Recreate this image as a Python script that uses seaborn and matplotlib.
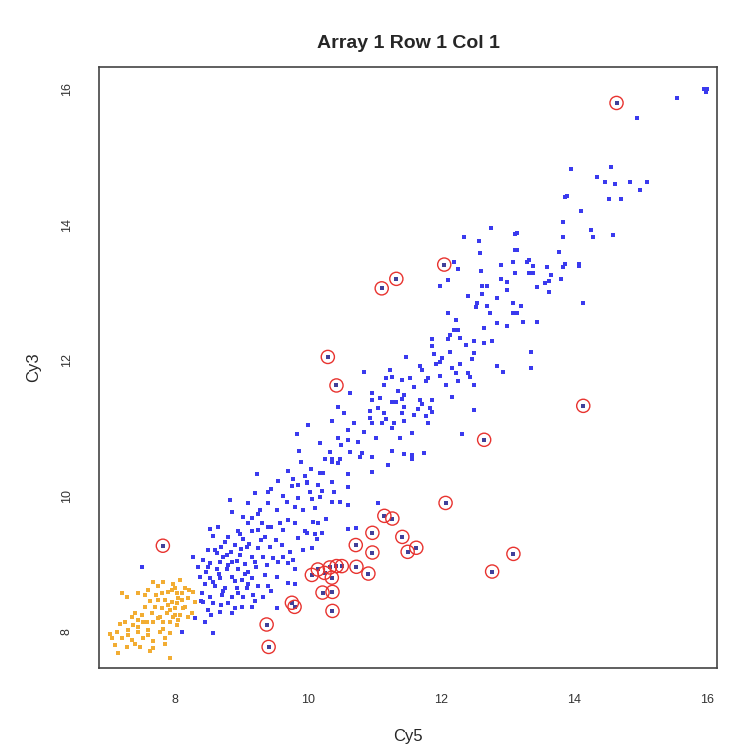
import matplotlib
matplotlib.use("Agg")
import matplotlib.pyplot as plt
import seaborn as sns
import pandas as pd

# Spots (Cy5 on x, Cy3 on y)
blue_x = [15.55, 14.95, 15.96, 16.00, 15.98, 15.99, 13.96, 14.55, 14.34, 14.46, 14.61, 14.85, 15.10, 15.00,
          13.86, 13.90, 14.53, 14.71, 14.11, 13.83, 14.25, 14.28, 14.58, 13.84, 13.14, 13.14, 13.78, 13.32,
          13.86, 14.08,
          13.30, 13.38, 13.59, 13.84, 14.08, 13.33, 13.39, 13.65, 13.81, 13.57, 13.63, 13.45, 13.63, 14.13,
          13.20, 13.15, 13.24, 13.45, 13.36, 13.35,
          12.76, 12.35, 12.58, 13.11, 12.59, 13.12, 13.09, 12.19,
          12.25, 12.61, 13.11, 12.10, 11.98, 12.62, 12.91, 13.00, 13.00, 12.62, 12.85, 12.55, 12.52, 12.70,
          13.08, 13.09, 12.74, 12.10, 12.22, 12.85, 13.00, 12.25, 12.65, 12.13, 11.87, 12.11, 12.29, 12.50,
          12.65, 12.77, 11.87, 12.38, 12.13, 12.50, 11.48, 12.02, 11.99, 12.46, 11.68, 11.93, 12.28, 12.85,
          12.94, 10.85, 11.23, 11.71, 12.16, 12.23, 12.40, 11.18, 11.27, 11.42, 11.53, 11.81, 11.78, 11.99,
          12.25, 12.43, 11.14, 12.08, 12.49, 10.63, 10.96, 11.44, 12.16, 10.45, 10.96, 11.08, 11.26, 11.33,
          11.41, 11.45, 11.68, 11.71, 11.87, 11.65, 11.84, 12.50, 10.55, 10.93, 11.15, 11.42, 11.60, 11.78,
          11.87, 10.93, 11.18, 11.80, 10.37, 10.70, 10.97, 11.12, 11.30, 11.45, 10.00, 10.60, 11.27, 11.57,
          12.31, 10.18, 10.45, 10.60, 10.75, 11.03, 11.38, 10.33, 10.63, 10.81, 10.97, 11.26, 11.45, 11.57,
          11.75, 10.36, 10.48, 10.78, 11.56,
          10.36, 10.45, 11.20, 10.97, 10.18, 10.22, 10.60, 9.98, 10.36, 10.15, 10.60, 10.03, 10.21, 10.40,
          10.06, 10.18, 10.37, 10.48, 10.60, 11.06, 10.10, 10.07, 10.15, 10.28, 10.60, 10.73, 9.98, 10.10,
          10.21, 10.13, 10.06,
          9.83, 9.86, 9.89,
          9.23, 9.70, 9.89, 9.95, 9.55, 9.76, 9.85, 9.98, 9.40, 9.20, 8.83, 9.68, 9.85, 9.10, 9.40, 9.53,
          9.80, 9.92, 8.86, 9.02, 9.16, 9.25, 9.31, 9.40, 9.58, 9.70, 9.80, 9.95, 8.53, 8.95, 9.16, 9.25,
          8.57, 8.80, 9.02, 9.35, 9.61, 9.85, 8.69, 8.90, 9.08, 9.25, 9.43, 9.73, 9.92, 8.63, 8.78, 8.98,
          9.16, 9.32, 9.47, 9.62, 9.77, 8.27, 8.42, 8.53, 8.68, 8.86, 9.05, 9.20, 9.38, 9.55, 9.70, 7.50,
          8.35, 8.50, 8.63, 8.78, 8.95, 9.10, 9.35, 9.80, 8.38, 8.53, 8.68, 8.86, 9.01, 9.16, 9.53, 9.70,
          8.45, 8.60, 8.75, 8.93, 9.08, 9.25, 9.40, 9.80, 8.41, 8.53, 8.71, 8.86, 9.02, 9.17, 9.32, 8.42,
          8.57, 8.80, 9.01, 9.16, 9.53, 8.50, 8.68, 8.86, 8.30, 8.45, 8.57, 8.11,
          8.60, 8.72, 8.84, 8.93, 9.00, 9.12, 8.66, 8.80, 8.90, 9.05, 8.47, 8.58, 8.72, 8.95, 9.10, 9.22,
          9.30, 9.45, 9.52, 9.62, 9.10, 8.98, 8.75, 8.50, 8.65, 9.28, 9.45, 9.62, 9.78, 8.40, 8.55, 8.70,
          8.90, 9.20, 9.45, 10.05, 10.25, 10.50, 10.85, 11.05, 11.35, 11.60, 11.90, 12.20, 12.40, 12.70,
          12.90]
blue_y = [15.87, 15.57, 15.99, 16.00, 15.95, 15.97, 14.82, 14.84, 14.70, 14.62, 14.60, 14.62, 14.63, 14.51,
          14.41, 14.42, 14.37, 14.38, 14.20, 14.04, 13.92, 13.81, 13.84, 13.81, 13.88, 13.63, 13.60, 13.48,
          13.42, 13.42,
          13.45, 13.39, 13.38, 13.38, 13.39, 13.29, 13.29, 13.25, 13.20, 13.14, 13.17, 13.08, 13.00, 12.85,
          12.80, 12.70, 12.57, 12.57, 12.13, 11.88,
          13.95, 13.82, 13.76, 13.86, 13.58, 13.63, 13.45, 13.45,
          13.35, 13.32, 13.29, 13.19, 13.10, 13.10, 13.20, 13.16, 13.04, 12.98, 12.92, 12.85, 12.79, 12.80,
          12.85, 12.70, 12.70, 12.70, 12.60, 12.55, 12.51, 12.45, 12.47, 12.38, 12.32, 12.32, 12.33, 12.29,
          12.26, 12.29, 12.21, 12.23, 12.13, 12.11, 12.05, 12.04, 11.98, 12.02, 11.92, 11.94, 11.94, 11.92,
          11.83, 11.83, 11.86, 11.86, 11.88, 11.82, 11.82, 11.74, 11.76, 11.71, 11.74, 11.74, 11.70, 11.77,
          11.70, 11.76, 11.64, 11.63, 11.63, 11.52, 11.52, 11.49, 11.46, 11.32, 11.42, 11.45, 11.38, 11.39,
          11.43, 11.32, 11.42, 11.35, 11.42, 11.29, 11.30, 11.27, 11.23, 11.26, 11.23, 11.23, 11.20, 11.18,
          11.24, 11.15, 11.14, 11.08, 11.10, 11.08, 11.08, 11.07, 11.07, 11.10, 11.05, 10.98, 11.01, 10.93,
          10.92, 10.79, 10.86, 10.83, 10.80, 10.86, 10.86, 10.65, 10.65, 10.64, 10.58, 10.67, 10.62, 10.61,
          10.64, 10.54, 10.55, 10.57, 10.55,
          10.51, 10.49, 10.46, 10.36, 10.34, 10.34, 10.32, 10.21, 10.21, 10.17, 10.14, 10.06, 10.08, 10.06,
          9.96, 9.99, 9.92, 9.92, 9.87, 9.90, 9.83, 9.62, 9.61, 9.67, 9.52, 9.53, 9.46, 9.45,
          9.46, 9.37, 9.24,
          10.92, 10.67, 10.51,
          10.33, 10.37, 10.51, 10.30, 10.23, 10.15, 10.17, 10.20, 10.06, 10.05, 9.95, 9.92, 9.98, 9.90, 9.90, 9.80,
          9.84, 9.80, 9.76, 9.70, 9.68, 9.73, 9.61, 9.55, 9.61, 9.65, 9.61, 9.48, 9.52, 9.48, 9.48, 9.50,
          9.42, 9.40, 9.37, 9.40, 9.28, 9.39, 9.25, 9.28, 9.25, 9.24, 9.25, 9.18, 9.21, 9.17, 9.14, 9.14,
          9.11, 9.11, 9.09, 9.11, 9.06, 9.11, 9.06, 9.02, 9.03, 9.03, 9.00, 9.03, 8.99, 9.03, 9.02, 8.95,
          8.95, 8.95, 8.92, 8.92, 8.92, 8.89, 8.84, 8.92, 8.81, 8.80, 8.80, 8.81, 8.77, 8.80, 8.81, 8.72,
          8.70, 8.67, 8.65, 8.65, 8.65, 8.67, 8.67, 8.70, 8.58, 8.52, 8.55, 8.52, 8.52, 8.55, 8.52, 8.44,
          8.43, 8.43, 8.37, 8.37, 8.36, 8.33, 8.30, 8.28, 8.21, 8.14, 7.99, 8.00,
          9.20, 9.10, 9.18, 9.05, 9.22, 9.30, 8.86, 8.98, 8.75, 8.86, 8.88, 8.73, 8.60, 8.58, 8.70, 8.95,
          9.35, 9.55, 9.35, 9.50, 9.60, 9.45, 9.33, 9.20, 9.55, 9.80, 10.10, 10.00, 10.25, 8.45, 8.25, 8.40,
          8.35, 8.45, 8.60, 10.40, 10.55, 10.75, 10.95, 11.30, 11.55, 11.60, 12.10, 12.45, 12.95, 13.10,
          13.40]

orange_x = [7.20, 7.28, 7.44, 7.59, 7.67, 7.82, 7.97, 8.08, 8.15, 8.27, 7.80, 7.89, 8.03, 7.85, 7.95, 8.11,
            8.20, 8.30, 7.55, 7.70, 7.80, 8.00, 8.15, 7.40, 7.50, 7.65, 7.88, 7.97, 8.08, 8.26, 7.25, 7.37,
            7.52, 7.67, 7.82, 7.92, 8.03, 7.13, 7.29, 7.44, 7.59, 7.77, 7.92, 7.05, 7.20, 7.35, 7.52, 7.67,
            7.85, 7.10, 7.28, 7.47, 7.67, 7.14, 7.92, 7.74, 8.00, 8.11, 7.74, 8.03, 7.77, 7.92, 8.05, 8.20,
            7.35, 7.44, 7.62, 7.72, 7.90, 8.05, 7.58, 7.45, 7.82, 8.12, 7.30, 7.40, 7.60, 7.75, 7.95, 8.22,
            7.18, 7.55, 7.85, 7.02, 7.62, 8.00]
orange_y = [8.58, 8.52, 8.58, 8.62, 8.74, 8.74, 8.70, 8.77, 8.65, 8.59, 8.58, 8.59, 8.58, 8.47, 8.44, 8.47,
            8.50, 8.44, 8.37, 8.37, 8.36, 8.36, 8.37, 8.28, 8.25, 8.28, 8.28, 8.22, 8.25, 8.28, 8.14, 8.11,
            8.14, 8.15, 8.14, 8.14, 8.11, 8.00, 8.03, 8.00, 8.03, 8.00, 7.99, 7.91, 7.91, 7.88, 7.91, 7.86,
            7.91, 7.81, 7.78, 7.78, 7.77, 7.69, 7.61, 8.67, 8.65, 8.58, 8.47, 8.43, 8.22, 8.33, 8.18, 8.22,
            8.22, 8.18, 8.45, 8.55, 8.40, 8.50, 8.15, 8.08, 8.05, 8.35, 7.95, 7.82, 7.95, 8.20, 8.62, 8.62,
            8.12, 8.55, 7.83, 7.97, 7.72, 8.25]

# Flagged spots (circled in red)
flag_x = [14.64, 12.05, 11.33, 11.11, 10.30, 10.43, 12.65, 14.14, 7.82, 9.38, 9.41, 9.76, 9.80, 12.07,
          11.15, 11.27, 10.97, 11.42, 10.72, 10.97, 11.50, 11.63, 10.73, 10.91, 12.77, 13.09, 10.15, 10.25,
          10.33, 10.43, 10.51, 10.36, 10.22, 10.37, 10.37, 10.06]
flag_y = [15.79, 13.41, 13.20, 13.06, 12.05, 11.63, 10.83, 11.33, 9.27, 8.11, 7.78, 8.43, 8.37, 9.90,
          9.71, 9.67, 9.46, 9.40, 9.28, 9.17, 9.18, 9.24, 8.96, 8.86, 8.89, 9.15, 8.92, 8.87,
          8.95, 8.97, 8.97, 8.80, 8.58, 8.59, 8.31, 8.84]

blue = pd.DataFrame({"Cy5": blue_x, "Cy3": blue_y})
orange = pd.DataFrame({"Cy5": orange_x, "Cy3": orange_y})
flagged = pd.DataFrame({"Cy5": flag_x, "Cy3": flag_y})

sns.set_style("white")
plt.rcParams["font.family"] = ["Liberation Sans", "DejaVu Sans"]

fig = plt.figure(figsize=(7.29, 7.44), dpi=100)
ax = fig.add_axes([0.1358, 0.1022, 0.8477, 0.8078])

sns.scatterplot(data=blue, x="Cy5", y="Cy3", ax=ax, color="#3a3aee", marker="s", s=5, linewidth=0)
sns.scatterplot(data=orange, x="Cy5", y="Cy3", ax=ax, color="#f2ad33", marker="s", s=5, linewidth=0)
sns.scatterplot(data=flagged, x="Cy5", y="Cy3", ax=ax, color="#40409a", marker="s", s=5, linewidth=0)
sns.scatterplot(data=flagged, x="Cy5", y="Cy3", ax=ax, marker="o", s=90,
                facecolors="none", edgecolor="#e8332f", linewidth=1.0)

ax.set_xlim(6.86, 16.15)
ax.set_ylim(7.47, 16.32)
ax.set_xticks([8, 10, 12, 14, 16])
ax.set_yticks([8, 10, 12, 14, 16])
ax.tick_params(axis="both", direction="out", length=7, width=1, color="#444444",
               labelsize=9, labelcolor="#333333", pad=12)
for lbl in ax.get_yticklabels():
    lbl.set_rotation(90)
    lbl.set_va("center")
for sp in ax.spines.values():
    sp.set_color("#444444")
    sp.set_linewidth(1.2)

ax.set_xlabel("Cy5", fontsize=12, labelpad=16)
ax.set_ylabel("Cy3", fontsize=12, labelpad=14)
ax.set_title("Array 1 Row 1 Col 1", fontsize=14, fontweight="bold", pad=14)

fig.savefig("out.png", dpi=100)
